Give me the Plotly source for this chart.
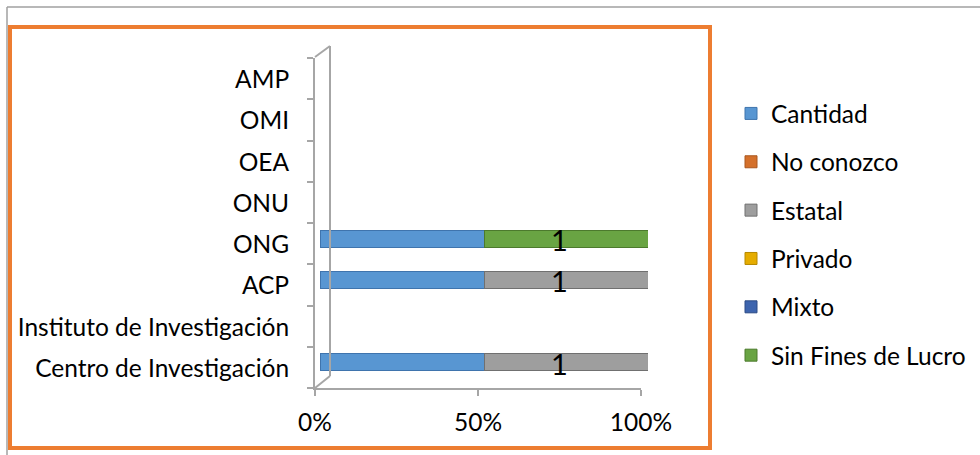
import plotly.graph_objects as go

categories = ["Centro de Investigación", "Instituto de Investigación", "ACP", "ONG",
              "ONU", "OEA", "OMI", "AMP"]
series_names = ["Cantidad", "No conozco", "Estatal", "Privado", "Mixto", "Sin Fines de Lucro"]
cantidad = [1, 0, 1, 1, 0, 0, 0, 0]
no_conozco = [0, 0, 0, 0, 0, 0, 0, 0]
estatal = [1, 0, 1, 0, 0, 0, 0, 0]
privado = [0, 0, 0, 0, 0, 0, 0, 0]
mixto = [0, 0, 0, 0, 0, 0, 0, 0]
sin_fines = [0, 0, 0, 1, 0, 0, 0, 0]
x_ticks = [0, 0.5, 1]
x_tick_text = ["0%", "50%", "100%"]

series_values = [cantidad, no_conozco, estatal, privado, mixto, sin_fines]
colors = ["#5896D2", "#D4702B", "#9E9E9E", "#E5AC00", "#3D64AE", "#69A443"]
line_colors = ["#3F74AD", "#A9561E", "#707070", "#B58800", "#2C4B85", "#4C7A2D"]

W, H = 980, 455
def px(x):
    return x / W
def py(y):
    return 1 - y / H

FONT = "Lato"
FS = 24.5
fig = go.Figure()

# bars on hidden axes, shifted a few pixels (3-D depth of the original chart)
for name, vals, c, lc in zip(series_names, series_values, colors, line_colors):
    fig.add_trace(go.Bar(
        y=categories, x=vals, name=name, orientation="h",
        marker=dict(color=c, line=dict(color=lc, width=1)),
        xaxis="x", yaxis="y", legendgroup=name, hoverinfo="x+y+name",
    ))

# data labels on the non-Cantidad segment, on the visible front axes
lab_x, lab_y, lab_t = [], [], []
for i, cat in enumerate(categories):
    total = sum(v[i] for v in series_values)
    if total == 0:
        continue
    cum = 0
    for vals in series_values:
        v = vals[i]
        if v and vals is not cantidad:
            lab_x.append((cum + v / 2) / total)
            lab_y.append(cat)
            lab_t.append(str(v))
        cum += v
fig.add_trace(go.Scatter(
    x=lab_x, y=lab_y, text=lab_t, mode="text", showlegend=False,
    textfont=dict(family=FONT, size=29, color="black"), hoverinfo="skip",
    xaxis="x2", yaxis="y2", cliponaxis=False,
))

axis_gray = "#A6A6A6"
fig.update_layout(
    width=W, height=H,
    margin=dict(l=0, r=0, t=0, b=0, autoexpand=False),
    paper_bgcolor="white", plot_bgcolor="rgba(0,0,0,0)",
    barmode="stack", barnorm="fraction", bargap=0.59,
    font=dict(family=FONT, size=FS, color="black"),
    xaxis=dict(domain=[px(320), px(648)], range=[0, 1], visible=False,
               anchor="y", fixedrange=True, automargin=False),
    yaxis=dict(domain=[py(383), py(53)], range=[-0.5, 7.5], type="category",
               categoryorder="array", categoryarray=categories,
               visible=False, anchor="x", fixedrange=True, automargin=False),
    xaxis2=dict(domain=[px(315), px(641)], range=[0, 1], tickvals=x_ticks,
                ticktext=x_tick_text, showline=True, linecolor=axis_gray,
                linewidth=2, ticks="outside", ticklen=6, tickcolor=axis_gray,
                tickwidth=2, showgrid=False, zeroline=False, anchor="y2",
                ticklabelstandoff=6, fixedrange=True, automargin=False),
    yaxis2=dict(domain=[py(388), py(58)], range=[-0.5, 7.5], type="category",
                categoryorder="array", categoryarray=categories,
                tickson="boundaries", showline=True, linecolor=axis_gray,
                linewidth=2, ticks="outside", ticklen=6, tickcolor=axis_gray,
                tickwidth=2, showgrid=False, zeroline=False, anchor="x2",
                ticklabelstandoff=19, ticklabelshift=1,
                fixedrange=True, automargin=False),
    legend=dict(x=px(731), y=py(91), xanchor="left", yanchor="top",
                tracegroupgap=13.5, font=dict(family=FONT, size=FS),
                bgcolor="rgba(0,0,0,0)"),
    showlegend=True,
    shapes=[
        dict(type="line", xref="paper", yref="paper", x0=px(7), x1=px(980),
             y0=py(7), y1=py(7), line=dict(color="#A0A0A0", width=1.5)),
        dict(type="line", xref="paper", yref="paper", x0=px(7), x1=px(7),
             y0=py(7), y1=py(455), line=dict(color="#A0A0A0", width=1.5)),
        dict(type="rect", xref="paper", yref="paper", x0=px(10), x1=px(710),
             y0=py(27), y1=py(448), line=dict(color="#ED7D31", width=4)),
        dict(type="line", xref="paper", yref="paper", x0=px(330), x1=px(330),
             y0=py(46), y1=py(376), line=dict(color=axis_gray, width=2)),
        dict(type="line", xref="paper", yref="paper", x0=px(315), x1=px(330),
             y0=py(57), y1=py(46), line=dict(color=axis_gray, width=2)),
        dict(type="line", xref="paper", yref="paper", x0=px(315), x1=px(330),
             y0=py(388), y1=py(376), line=dict(color=axis_gray, width=2)),
    ],
)

fig.write_html("out.html", config={"displayModeBar": False},
               post_script="document.body.style.margin='0';")
